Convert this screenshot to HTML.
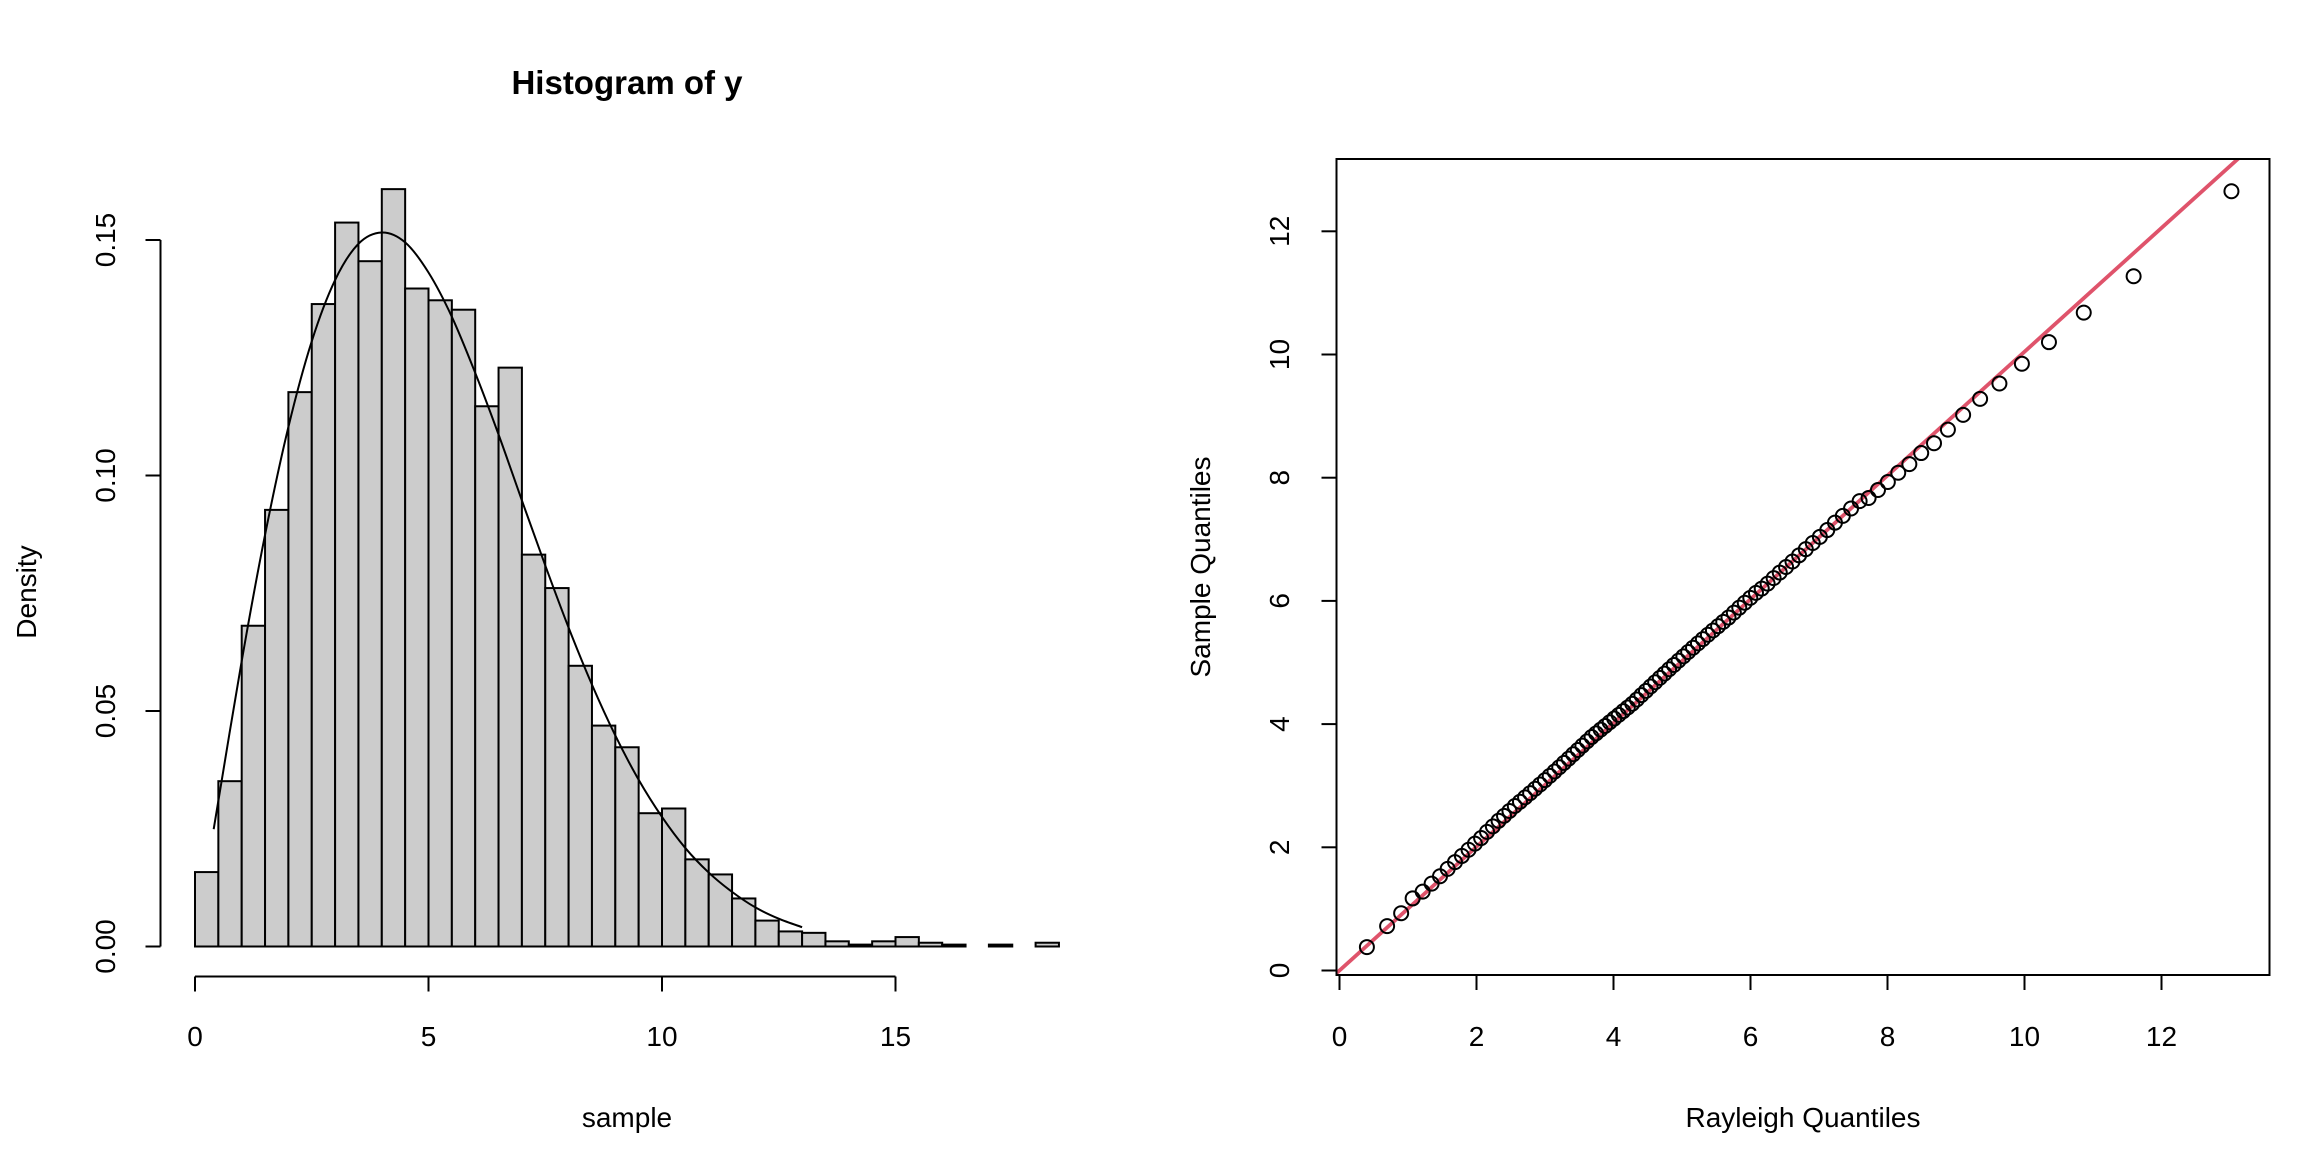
<!DOCTYPE html>
<html><head><meta charset="utf-8"><style>
html,body{margin:0;padding:0;background:#fff;}
svg{display:block;font-family:"Liberation Sans",Arial,sans-serif;}
</style></head><body>
<svg id="c" width="2304" height="1152" viewBox="0 0 2304 1152" xmlns="http://www.w3.org/2000/svg">
<rect width="2304" height="1152" fill="#fff"/>
<g id="left"></g>
<g id="right"></g>
</svg>
<script>
const histDensity=[0.0158,0.0351,0.0681,0.0927,0.1177,0.1364,0.1537,0.1455,0.1608,0.1397,0.1372,0.1352,0.1147,0.1229,0.0832,0.0761,0.0596,0.0469,0.0423,0.0283,0.0293,0.0185,0.0153,0.0102,0.0055,0.0032,0.0029,0.0011,0.0004,0.0011,0.0020,0.0008,0.0004,0,0.0004,0,0.0008];
const binStart=0, binWidth=0.5;
const curveX=[0.4,1,1.5,2,2.5,3,3.5,4,4.5,5,5.5,6,6.5,7,7.5,8,8.5,9,9.5,10,10.5,11,11.5,12,12.5,13];
const curveY=[0.0249,0.0606,0.0874,0.1103,0.1285,0.1415,0.1492,0.1516,0.1495,0.1431,0.1337,0.1218,0.1087,0.0947,0.0809,0.0677,0.0556,0.0448,0.0354,0.0275,0.0209,0.0157,0.0116,0.0083,0.0059,0.0041];
const histXTicks=[0,5,10,15];
const histYTicks=[0,0.05,0.10,0.15];
const histYLabels=["0.00","0.05","0.10","0.15"];
const theo=[0.400,0.695,0.900,1.068,1.214,1.345,1.467,1.579,1.686,1.787,1.884,1.977,2.067,2.154,2.239,2.322,2.402,2.481,2.559,2.635,2.709,2.783,2.856,2.928,2.999,3.069,3.139,3.208,3.276,3.345,3.412,3.479,3.546,3.613,3.680,3.746,3.812,3.878,3.944,4.010,4.076,4.142,4.208,4.274,4.341,4.407,4.474,4.541,4.608,4.676,4.744,4.812,4.881,4.950,5.020,5.090,5.161,5.233,5.305,5.378,5.452,5.527,5.602,5.679,5.757,5.836,5.916,5.997,6.080,6.164,6.250,6.338,6.427,6.519,6.613,6.709,6.807,6.909,7.013,7.121,7.233,7.348,7.468,7.593,7.724,7.861,8.005,8.157,8.319,8.492,8.679,8.882,9.104,9.352,9.634,9.962,10.357,10.865,11.593,13.021];
const sample=[0.38,0.72,0.93,1.17,1.28,1.41,1.53,1.65,1.76,1.86,1.96,2.06,2.15,2.25,2.34,2.43,2.51,2.59,2.67,2.74,2.81,2.88,2.95,3.02,3.09,3.16,3.23,3.30,3.37,3.44,3.51,3.58,3.65,3.72,3.79,3.85,3.91,3.97,4.03,4.09,4.15,4.21,4.27,4.33,4.40,4.47,4.54,4.61,4.68,4.75,4.82,4.89,4.96,5.03,5.10,5.17,5.24,5.31,5.38,5.45,5.52,5.59,5.66,5.73,5.81,5.89,5.97,6.05,6.13,6.20,6.28,6.37,6.46,6.55,6.64,6.74,6.84,6.94,7.04,7.15,7.27,7.38,7.50,7.62,7.67,7.80,7.93,8.08,8.22,8.40,8.56,8.78,9.02,9.28,9.53,9.85,10.20,10.68,11.27,12.65];
const qqTicks=[0,2,4,6,8,10,12];
const qqLine=[-0.09,-0.09,13.3,13.36];

const NS="http://www.w3.org/2000/svg";
function mk(parent,tag,attrs,text){const e=document.createElementNS(NS,tag);for(const k in attrs)e.setAttribute(k,attrs[k]);if(text!==undefined)e.textContent=text;parent.appendChild(e);return e;}

const FS=28;
const hx=v=>195+v*46.7, hy=v=>946.5-v*4710;
const L=document.getElementById('left');
histDensity.forEach((d,i)=>{
  const x0=hx(binStart+i*binWidth), x1=hx(binStart+(i+1)*binWidth);
  const r=mk(L,'rect',{x:x0,y:hy(d),width:x1-x0,height:hy(0)-hy(d),fill:'#cccccc',stroke:'#000','stroke-width':2});
  
  
});
let pd='';
for(let i=0;i<curveX.length;i++){
  const x=hx(curveX[i]),y=hy(curveY[i]);
  if(i===0){pd+='M'+x+','+y;continue;}
  const p0=i>1?[hx(curveX[i-2]),hy(curveY[i-2])]:[hx(curveX[i-1]),hy(curveY[i-1])];
  const p1=[hx(curveX[i-1]),hy(curveY[i-1])];
  const p3=i<curveX.length-1?[hx(curveX[i+1]),hy(curveY[i+1])]:[x,y];
  pd+=' C'+(p1[0]+(x-p0[0])/6)+','+(p1[1]+(y-p0[1])/6)+' '+(x-(p3[0]-p1[0])/6)+','+(y-(p3[1]-p1[1])/6)+' '+x+','+y;
}
const cv=mk(L,'path',{d:pd,fill:'none',stroke:'#000','stroke-width':2});


const xa=mk(L,'path',{d:'M'+hx(histXTicks[0])+',976.5 H'+hx(histXTicks[histXTicks.length-1]),stroke:'#000','stroke-width':2,fill:'none'});


histXTicks.forEach(t=>{
  mk(L,'line',{x1:hx(t),x2:hx(t),y1:976.5,y2:991.5,stroke:'#000','stroke-width':2});
  const tl=mk(L,'text',{x:hx(t),y:1046,'font-size':FS,'text-anchor':'middle'},String(t));
  
  
});
const ya=mk(L,'path',{d:'M160.5,'+hy(histYTicks[0])+' V'+hy(histYTicks[histYTicks.length-1]),stroke:'#000','stroke-width':2,fill:'none'});


histYTicks.forEach((t,i)=>{
  mk(L,'line',{x1:145.5,x2:160.5,y1:hy(t),y2:hy(t),stroke:'#000','stroke-width':2});
  const tl=mk(L,'text',{x:0,y:0,'font-size':FS,'text-anchor':'middle',transform:'translate(115,'+hy(t)+') rotate(-90)'},histYLabels[i]);
  
  
});
const tt=mk(L,'text',{x:627,y:94,'font-size':33,'font-weight':'bold','text-anchor':'middle'},'Histogram of y');


const xt=mk(L,'text',{x:627,y:1127,'font-size':FS,'text-anchor':'middle'},'sample');


const yt=mk(L,'text',{x:0,y:0,'font-size':FS,'text-anchor':'middle',transform:'translate(36,592) rotate(-90)'},'Density');



const qx=v=>1339.5+v*68.5, qy=v=>970.5-v*61.6;
const R=document.getElementById('right');
const cp=mk(R,'clipPath',{id:'qclip'});
mk(cp,'rect',{x:1336.5,y:159,width:933,height:816});
const ql=mk(R,'line',{x1:qx(qqLine[0]),y1:qy(qqLine[1]),x2:qx(qqLine[2]),y2:qy(qqLine[3]),stroke:'#DF536B','stroke-width':3.8,'clip-path':'url(#qclip)'});


theo.forEach((t,i)=>{
  const c=mk(R,'circle',{cx:qx(t),cy:qy(sample[i]),r:7,fill:'none',stroke:'#000','stroke-width':2});
  
  
});
const box=mk(R,'rect',{x:1336.5,y:159,width:933,height:816,fill:'none',stroke:'#000','stroke-width':2});


qqTicks.forEach(t=>{
  mk(R,'line',{x1:qx(t),x2:qx(t),y1:975,y2:990,stroke:'#000','stroke-width':2});
  const a=mk(R,'text',{x:qx(t),y:1046,'font-size':FS,'text-anchor':'middle'},String(t));
  
  
  mk(R,'line',{x1:1321.5,x2:1336.5,y1:qy(t),y2:qy(t),stroke:'#000','stroke-width':2});
  const b=mk(R,'text',{x:0,y:0,'font-size':FS,'text-anchor':'middle',transform:'translate(1289,'+qy(t)+') rotate(-90)'},String(t));
  
  
});
const rx=mk(R,'text',{x:1803,y:1127,'font-size':FS,'text-anchor':'middle'},'Rayleigh Quantiles');


const ry=mk(R,'text',{x:0,y:0,'font-size':FS,'text-anchor':'middle',transform:'translate(1210,567) rotate(-90)'},'Sample Quantiles');


</script>
</body></html>
